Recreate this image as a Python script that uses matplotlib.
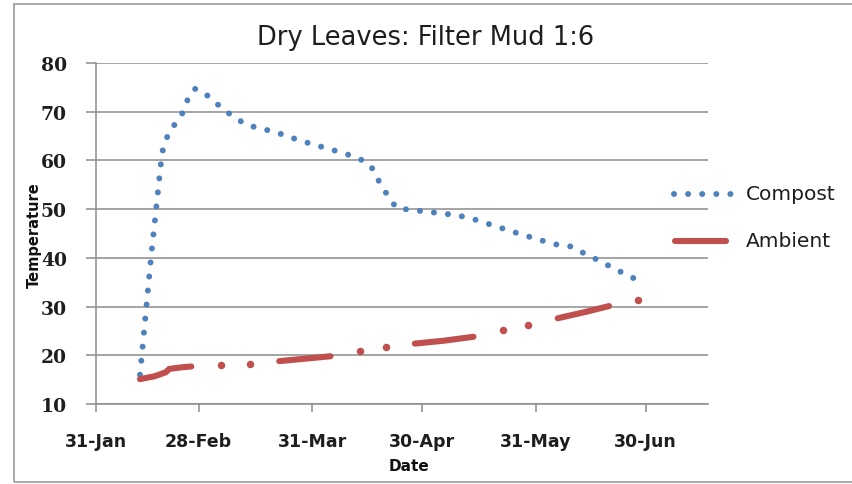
import datetime
import numpy as np
import matplotlib
matplotlib.use('Agg')
import matplotlib.pyplot as plt
import matplotlib.dates as mdates
from matplotlib.patches import Rectangle

# --- Data (year assumed non-leap) ---
compost_dates = ["02-12", "02-15", "02-18", "02-19", "02-20", "02-22", "02-24",
                 "02-25", "02-27", "03-01", "03-04", "03-07", "03-13", "03-21",
                 "03-28", "04-09", "04-13", "04-16", "04-19", "04-23", "05-01",
                 "05-09", "05-13", "05-25", "06-05", "06-09", "06-16", "06-23",
                 "06-30"]
compost_temp = [16.0, 40.0, 61.5, 64.0, 65.9, 67.9, 70.2,
                72.5, 74.7, 74.2, 72.3, 70.3, 67.3, 65.8,
                64.0, 61.4, 60.3, 58.9, 54.6, 50.2, 49.5,
                48.8, 48.2, 45.3, 42.8, 42.5, 39.9, 37.2,
                34.6]

# nan = no reading (gap in the line)
ambient_dates = ["02-12", "02-16", "02-19", "02-20", "02-23", "02-26", "03-02",
                 "03-06", "03-10", "03-14", "03-18", "03-22", "03-29", "04-05",
                 "04-09", "04-13", "04-16", "04-20", "04-24", "04-28", "05-06",
                 "05-14", "05-18", "05-22", "05-25", "05-29", "06-02", "06-06",
                 "06-13", "06-20", "06-24", "06-28"]
ambient_temp = [15.1, 15.7, 16.5, 17.2, 17.5, 17.7, np.nan,
                18.1, np.nan, 18.3, np.nan, 18.8, 19.3, 19.8,
                np.nan, 20.8, np.nan, 21.8, np.nan, 22.4, 23.0,
                23.8, np.nan, 25.1, np.nan, 26.3, np.nan, 27.6,
                28.8, 30.1, np.nan, 31.3]

tick_dates = ["01-31", "02-28", "03-31", "04-30", "05-31", "06-30"]
y_ticks = [10, 20, 30, 40, 50, 60, 70, 80]

YEAR = 2011


def to_date(s):
    m, d = s.split("-")
    return datetime.date(YEAR, int(m), int(d))


cx = [to_date(s) for s in compost_dates]
ax_dates = [to_date(s) for s in ambient_dates]
amb = np.array(ambient_temp)

BLUE = '#4F81BD'
RED = '#C0504D'
GRID = '#8C8C8C'
TXT = '#1E1E1E'
DOT = (0, (0.01, 2.35))

fig = plt.figure(figsize=(8.52, 4.85), dpi=100)
fig.patch.set_facecolor('white')
ax = fig.add_axes([96 / 852, 1 - 405 / 485, (708 - 96) / 852, (405 - 64) / 485])

# outer chart border
fig.add_artist(Rectangle((14 / 852, 2 / 485), 1.0, 478 / 485, transform=fig.transFigure,
                         fill=False, edgecolor='#9A9A9A', linewidth=1.2))

ax.plot(cx, compost_temp, color=BLUE, linewidth=4.3,
        linestyle=DOT, dash_capstyle='round', zorder=3)

# ambient: thick line where readings are consecutive, dots where isolated
ax.plot(ax_dates, amb, color=RED, linewidth=4.4, solid_capstyle='round', zorder=3)
iso = []
for i, v in enumerate(amb):
    if np.isnan(v):
        continue
    prev_nan = i == 0 or np.isnan(amb[i - 1])
    next_nan = i == len(amb) - 1 or np.isnan(amb[i + 1])
    if prev_nan and next_nan:
        iso.append(i)
ax.plot([ax_dates[i] for i in iso], amb[iso], 'o', color=RED, markersize=5.4,
        markeredgewidth=0, zorder=3)

ax.set_ylim(10, 80)
ax.set_yticks(y_ticks)
x0 = to_date("01-31")
ax.set_xlim(x0, x0 + datetime.timedelta(days=167))
ax.set_xticks([to_date(s) for s in tick_dates])
ax.xaxis.set_major_formatter(mdates.DateFormatter('%d-%b'))

ax.yaxis.grid(True, color=GRID, linewidth=1.1, zorder=1)
ax.set_axisbelow(True)
for s in ['top', 'right']:
    ax.spines[s].set_visible(False)
for s in ['left', 'bottom']:
    ax.spines[s].set_color(GRID)
    ax.spines[s].set_linewidth(1.1)

ax.tick_params(axis='y', direction='out', length=7, width=1.1, color=GRID, pad=14)
ax.tick_params(axis='x', direction='out', length=6, width=1.1, color=GRID, pad=14)
for lab in ax.get_yticklabels():
    lab.set_fontfamily('DejaVu Serif')
    lab.set_fontweight('bold')
    lab.set_fontsize(13.5)
    lab.set_color(TXT)
for lab in ax.get_xticklabels():
    lab.set_fontfamily('DejaVu Sans')
    lab.set_fontweight('bold')
    lab.set_fontsize(12.5)
    lab.set_color(TXT)

fig.text(426 / 852, 1 - 38 / 485, "Dry Leaves: Filter Mud 1:6", ha='center', va='center',
         fontsize=18.5, family='DejaVu Sans', color=TXT)
fig.text(34 / 852, 1 - 235 / 485, "Temperature", ha='center', va='center', rotation=90,
         fontsize=10.5, family='DejaVu Sans', fontweight='bold', color='#111111')
fig.text(409 / 852, 1 - 467 / 485, "Date", ha='center', va='center',
         fontsize=11, family='DejaVu Sans', fontweight='bold', color='#111111')

# legend drawn by hand to match the Excel layout
leg = fig.add_axes([0, 0, 1, 1], facecolor='none')
leg.set_xlim(0, 852)
leg.set_ylim(485, 0)
leg.axis('off')
leg.plot([674, 738], [195, 195], color=BLUE, linewidth=4.3,
         linestyle=DOT, dash_capstyle='round')
leg.plot([675, 726], [242, 242], color=RED, linewidth=4.4, solid_capstyle='round')
leg.text(746, 195, "Compost", ha='left', va='center', fontsize=14.5, family='DejaVu Sans',
         color=TXT)
leg.text(746, 242, "Ambient", ha='left', va='center', fontsize=14.5, family='DejaVu Sans',
         color=TXT)

fig.savefig('out.png', dpi=100)
